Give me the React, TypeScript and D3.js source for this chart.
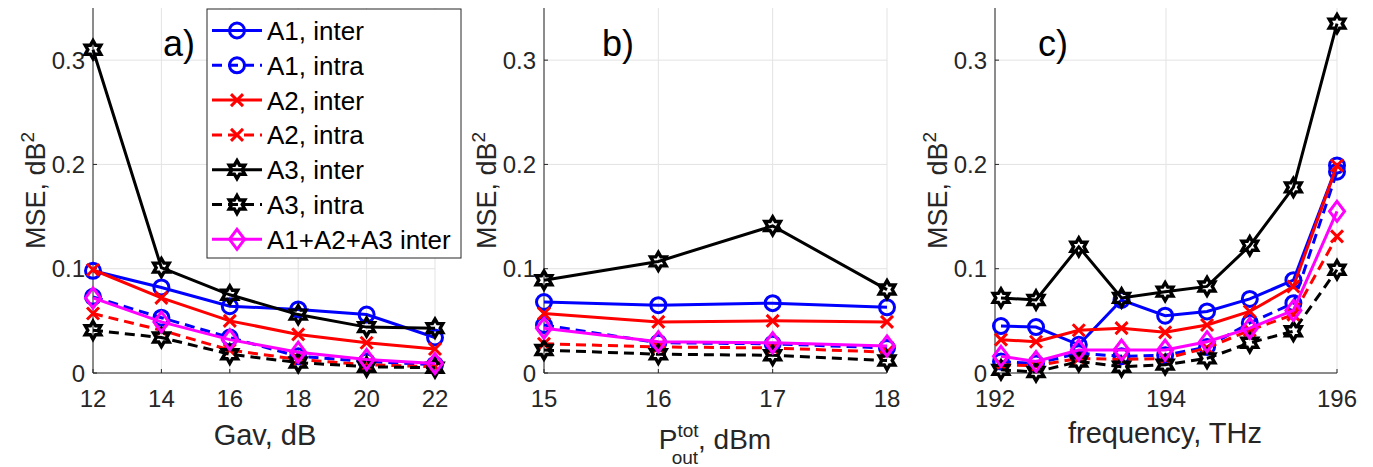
import React from 'react'
import * as d3 from 'd3'

// panel a) – amplifier gain
const gavX = [12, 14, 16, 18, 20, 22]
const gavA1Inter = [0.098, 0.082, 0.064, 0.061, 0.056, 0.034]
const gavA1Intra = [0.073, 0.053, 0.034, 0.016, 0.011, 0.008]
const gavA2Inter = [0.099, 0.072, 0.050, 0.037, 0.029, 0.023]
const gavA2Intra = [0.057, 0.041, 0.022, 0.013, 0.008, 0.006]
const gavA3Inter = [0.310, 0.101, 0.075, 0.056, 0.044, 0.043]
const gavA3Intra = [0.041, 0.034, 0.018, 0.010, 0.006, 0.005]
const gavSum = [0.072, 0.049, 0.032, 0.020, 0.013, 0.009]

// panel b) – total output power
const poutX = [15, 16, 17, 18]
const poutA1Inter = [0.068, 0.065, 0.067, 0.063]
const poutA1Intra = [0.046, 0.029, 0.028, 0.024]
const poutA2Inter = [0.057, 0.049, 0.050, 0.049]
const poutA2Intra = [0.028, 0.025, 0.024, 0.020]
const poutA3Inter = [0.089, 0.107, 0.141, 0.080]
const poutA3Intra = [0.022, 0.018, 0.017, 0.012]
const poutSum = [0.043, 0.030, 0.029, 0.026]

// panel c) – channel frequency
const freqX = [192.07, 192.48, 192.98, 193.48, 193.99, 194.48, 194.98, 195.49, 196.0]
const freqA1Inter = [0.045, 0.044, 0.027, 0.070, 0.055, 0.059, 0.071, 0.089, 0.199]
const freqA1Intra = [0.011, 0.009, 0.019, 0.016, 0.017, 0.025, 0.048, 0.067, 0.193]
const freqA2Inter = [0.032, 0.030, 0.041, 0.043, 0.039, 0.046, 0.059, 0.083, 0.199]
const freqA2Intra = [0.008, 0.007, 0.014, 0.013, 0.014, 0.024, 0.041, 0.056, 0.131]
const freqA3Inter = [0.072, 0.070, 0.121, 0.072, 0.078, 0.083, 0.122, 0.178, 0.335]
const freqA3Intra = [0.003, 0.001, 0.011, 0.006, 0.008, 0.014, 0.029, 0.040, 0.099]
const freqSum = [0.016, 0.011, 0.022, 0.022, 0.022, 0.030, 0.043, 0.060, 0.155]

const yTicks = [0, 0.1, 0.2, 0.3]
const yTickLabels = ['0', '0.1', '0.2', '0.3']

const SERIES = [
  { label: 'A1, inter', color: '#0000ff', dash: null, marker: 'o' },
  { label: 'A1, intra', color: '#0000ff', dash: '10,6', marker: 'o' },
  { label: 'A2, inter', color: '#ff0000', dash: null, marker: 'x' },
  { label: 'A2, intra', color: '#ff0000', dash: '10,6', marker: 'x' },
  { label: 'A3, inter', color: '#000000', dash: null, marker: 'h' },
  { label: 'A3, intra', color: '#000000', dash: '10,6', marker: 'h' },
  { label: 'A1+A2+A3 inter', color: '#ff00ff', dash: null, marker: 'd' },
]

const PANELS = [
  {
    tag: 'a)', tagX: 163, x: gavX, domain: [12, 22], range: [93, 435],
    ticks: [12, 14, 16, 18, 20, 22],
    ys: [gavA1Inter, gavA1Intra, gavA2Inter, gavA2Intra, gavA3Inter, gavA3Intra, gavSum],
  },
  {
    tag: 'b)', tagX: 602, x: poutX, domain: [15, 18], range: [544, 887],
    ticks: [15, 16, 17, 18],
    ys: [poutA1Inter, poutA1Intra, poutA2Inter, poutA2Intra, poutA3Inter, poutA3Intra, poutSum],
  },
  {
    tag: 'c)', tagX: 1038, x: freqX, domain: [192, 196], range: [995, 1337],
    ticks: [192, 194, 196],
    ys: [freqA1Inter, freqA1Intra, freqA2Inter, freqA2Intra, freqA3Inter, freqA3Intra, freqSum],
  },
]

const FONT = '"Liberation Sans", Arial, Helvetica, sans-serif'
const AXIS = '#262626'
const GRID = '#e3e3e3'
const LW = 3

const y = d3.scaleLinear().domain([0, 0.35]).range([373, 8])

function hexagram(R: number) {
  const r = R / Math.sqrt(3)
  const pts: string[] = []
  for (let i = 0; i < 12; i++) {
    const a = -Math.PI / 2 + (i * Math.PI) / 6
    const rad = i % 2 === 0 ? R : r
    pts.push(`${(rad * Math.cos(a)).toFixed(2)},${(rad * Math.sin(a)).toFixed(2)}`)
  }
  return 'M' + pts.join('L') + 'Z'
}

function Marker({ type, cx, cy, color }: { type: string; cx: number; cy: number; color: string }) {
  const common = { fill: 'none', stroke: color, strokeWidth: LW }
  if (type === 'o') return <circle cx={cx} cy={cy} r={7.5} {...common} />
  if (type === 'x') {
    const s = 6
    return <path d={`M${cx - s},${cy - s}L${cx + s},${cy + s}M${cx - s},${cy + s}L${cx + s},${cy - s}`} {...common} />
  }
  if (type === 'h') return <path transform={`translate(${cx},${cy})`} d={hexagram(9)} {...common} strokeWidth={3.4} strokeLinejoin="miter" />
  return <path d={`M${cx},${cy - 10}L${cx + 7.5},${cy}L${cx},${cy + 10}L${cx - 7.5},${cy}Z`} {...common} />
}

function Panel({ p }: { p: typeof PANELS[number] }) {
  const x = d3.scaleLinear().domain(p.domain).range(p.range)
  const [x0, x1] = p.range
  const line = d3.line<number>().x((_, i) => x(p.x[i])).y(d => y(d))
  return (
    <g>
      {/* grid */}
      {p.ticks.map(t => (
        <line key={'gx' + t} x1={x(t)} x2={x(t)} y1={y(0)} y2={y(0.35)} stroke={GRID} strokeWidth={1} />
      ))}
      {yTicks.map(t => (
        <line key={'gy' + t} x1={x0} x2={x1} y1={y(t)} y2={y(t)} stroke={GRID} strokeWidth={1} />
      ))}
      {/* axes */}
      <line x1={x0} x2={x0} y1={y(0)} y2={y(0.35)} stroke={AXIS} strokeWidth={1} />
      <line x1={x0} x2={x1} y1={y(0)} y2={y(0)} stroke={AXIS} strokeWidth={1} />
      {p.ticks.map(t => (
        <g key={'tx' + t}>
          <line x1={x(t)} x2={x(t)} y1={y(0)} y2={y(0) - 4} stroke={AXIS} />
          <text x={x(t)} y={407} textAnchor="middle" fontSize={24} fill={AXIS}>{t}</text>
        </g>
      ))}
      {yTicks.map((t, i) => (
        <g key={'ty' + t}>
          <line x1={x0} x2={x0 + 4} y1={y(t)} y2={y(t)} stroke={AXIS} />
          <text x={x0 - 8} y={y(t) + 8.5} textAnchor="end" fontSize={24} fill={AXIS}>{yTickLabels[i]}</text>
        </g>
      ))}
      <text transform={`translate(${x0 - 48},${(y(0) + y(0.35)) / 2}) rotate(-90)`} textAnchor="middle" fontSize={27} fill={AXIS}>
        MSE, dB<tspan dy={-11} fontSize={19}>2</tspan>
      </text>
      <text x={p.tagX} y={56} fontSize={36} fill="#000">{p.tag}</text>
      {/* series */}
      {SERIES.map((s, si) => (
        <g key={s.label}>
          <path d={line(p.ys[si]) || ''} fill="none" stroke={s.color} strokeWidth={LW} strokeDasharray={s.dash || undefined} />
          {p.ys[si].map((v, i) => (
            <Marker key={i} type={s.marker} cx={x(p.x[i])} cy={y(v)} color={s.color} />
          ))}
        </g>
      ))}
    </g>
  )
}

function Legend() {
  const left = 207, top = 9, w = 254, h = 249, row = 34.8
  return (
    <g>
      <rect x={left} y={top} width={w} height={h} fill="#fff" stroke={AXIS} strokeWidth={1} />
      {SERIES.map((s, i) => {
        const cy = top + 21.5 + i * row
        return (
          <g key={s.label}>
            <line x1={212} x2={262} y1={cy} y2={cy} stroke={s.color} strokeWidth={LW} strokeDasharray={s.dash || undefined} />
            <Marker type={s.marker} cx={237} cy={cy} color={s.color} />
            <text x={267} y={cy + 9.5} fontSize={26} fill="#000">{s.label}</text>
          </g>
        )
      })}
    </g>
  )
}

export default function App() {
  return (
    <svg width={1373} height={467} style={{ position: 'absolute', left: 0, top: 0, background: '#fff' }} fontFamily={FONT}>
      {PANELS.map(p => <Panel key={p.tag} p={p} />)}
      <Legend />
      <text x={265} y={445} textAnchor="middle" fontSize={29} fill={AXIS}>Gav, dB</text>
      <text x={715} y={449} textAnchor="middle" fontSize={28} fill={AXIS}>
        P<tspan dy={-12} fontSize={19}>tot</tspan><tspan dx={-27} dy={27} fontSize={19}>out</tspan><tspan dy={-15}>, dBm</tspan>
      </text>
      <text x={1165} y={443} textAnchor="middle" fontSize={29} fill={AXIS}>frequency, THz</text>
    </svg>
  )
}
